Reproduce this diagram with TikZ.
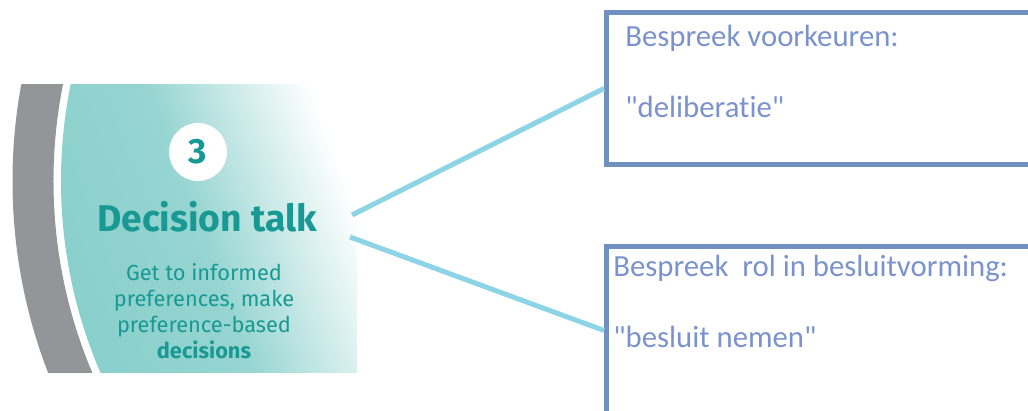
\documentclass[tikz,border=0pt]{standalone}
\usepackage{fontspec}
\setmainfont[Ligatures=NoCommon]{Carlito}
\newfontfamily\talkfont{Fira Sans}
\usetikzlibrary{positioning}

\definecolor{tealfill}{RGB}{136,207,203}
\definecolor{tealtext}{RGB}{24,153,148}
\definecolor{ringgray}{RGB}{148,149,152}
\definecolor{boxblue}{RGB}{112,144,192}
\definecolor{boxtext}{RGB}{122,146,205}
\definecolor{linkblue}{RGB}{140,212,230}

\begin{document}
\begin{tikzpicture}[x=0.02cm,y=-0.02cm,
    box/.style={draw=boxblue,line width=0.1cm,anchor=north west,minimum width=10cm},
    boxtxt/.style={anchor=base west,text=boxtext,font=\fontsize{17.5}{21}\selectfont,inner sep=0pt},
    link/.style={draw=linkblue,line width=0.1cm}]
    \useasboundingbox (0,0) rectangle (1028,411);

    \begin{scope}
        \clip (0,85) rectangle (357,373);
        \draw[ringgray,line width=0.82cm] (545,181) circle[radius=512];
        \clip (545,181) circle[radius=484];
        \shade[left color=tealfill,right color=white,middle color=tealfill!88,shading angle=110] (40,85) rectangle (357,373);
    \end{scope}

    \node[circle,fill=white,minimum size=1.16cm,inner sep=0pt,text=tealtext,font=\talkfont\bfseries\fontsize{20}{24}\selectfont] (num) at (198,152) {3};
    \node[anchor=base,text=tealtext,font=\talkfont\bfseries\fontsize{21.2}{25}\selectfont,inner sep=0pt] (talk) at (207,232) {Decision talk};
    \node[anchor=north,align=center,text=tealtext,font=\talkfont\fontsize{12.4}{14.8}\selectfont,inner sep=0pt] (sub) at (204,263)
        {Get to informed\\preferences, make\\preference-based\\\textbf{decisions}};

    \node[box,minimum height=3.04cm] (pref) at (604,10) {};
    \node[box,minimum height=3.36cm] (role) at (604,244) {};
    \node[boxtxt] (pref1) at (625,47) {Bespreek voorkeuren:};
    \node[boxtxt] (pref2) at (625,118) {\textquotedbl deliberatie\textquotedbl};
    \node[boxtxt] (role1) at (613,277) {Bespreek\ \ rol in besluitvorming:};
    \node[boxtxt] (role2) at (613,348) {\textquotedbl besluit nemen\textquotedbl};

    \coordinate (up) at (352,215);
    \coordinate (down) at (350,237);
    \draw[link] (up) -- (pref.west);
    \draw[link] (down) -- (role.west);
\end{tikzpicture}
\end{document}
